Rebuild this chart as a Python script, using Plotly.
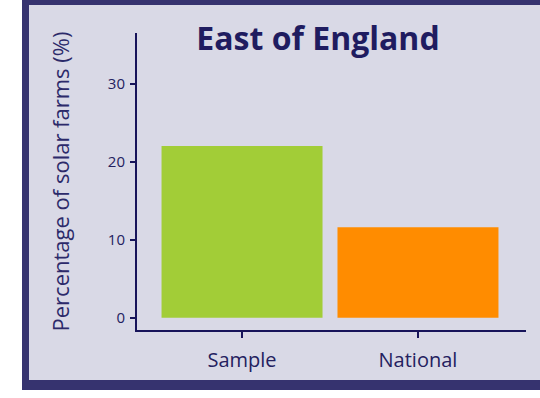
import plotly.graph_objects as go

categories = ["Sample", "National"]
percentages = [22.0, 11.6]
bar_colors = ["#a2cd37", "#ff8c00"]
y_ticks = [0, 10, 20, 30]

W, H = 540, 398
ML, MR, MT, MB = 137, 14, 33, 68
PW, PH = W - ML - MR, H - MT - MB


def px_x(p):
    return (p - ML) / PW


def px_y(p):
    return (H - MB - p) / PH


navy = "#17145a"
frame = "#36336f"
panel = "#d9d9e6"
FONT = "Open Sans, Noto Sans, sans-serif"

fig = go.Figure(
    go.Bar(
        x=categories,
        y=percentages,
        marker=dict(color=bar_colors, line=dict(width=0)),
        width=0.915,
        hoverinfo="x+y",
    )
)

fig.update_layout(
    width=W,
    height=H,
    margin=dict(l=ML, r=MR, t=MT, b=MB),
    paper_bgcolor="white",
    plot_bgcolor="rgba(0,0,0,0)",
    showlegend=False,
    font=dict(family=FONT, color=navy),
    title=dict(
        text="<b>East of England</b>",
        x=px_x(318),
        xref="paper",
        xanchor="center",
        y=1 - 39 / H,
        yanchor="middle",
        font=dict(size=32, color="#1f1c60", family=FONT),
    ),
    shapes=[
        dict(type="rect", xref="paper", yref="paper", layer="below",
             x0=px_x(22), x1=px_x(560), y0=px_y(390), y1=px_y(-10),
             fillcolor=frame, line=dict(width=0)),
        dict(type="rect", xref="paper", yref="paper", layer="below",
             x0=px_x(29), x1=px_x(560), y0=px_y(380), y1=px_y(5),
             fillcolor=panel, line=dict(width=0)),
    ],
)

fig.update_xaxes(
    range=[-0.597, 1.614],
    showgrid=False,
    zeroline=False,
    showline=True,
    linecolor=navy,
    linewidth=2,
    ticks="outside",
    ticklen=6,
    tickwidth=2,
    tickcolor=navy,
    ticklabelstandoff=5,
    tickfont=dict(size=20, color="#24215f"),
)

fig.update_yaxes(
    range=[-1.58, 36.5],
    tickvals=y_ticks,
    showgrid=False,
    zeroline=False,
    showline=True,
    linecolor=navy,
    linewidth=2,
    ticks="outside",
    ticklen=5,
    tickwidth=2,
    tickcolor=navy,
    ticklabelstandoff=2,
    tickfont=dict(size=15, color="#24215f"),
    title=dict(text="Percentage of solar farms (%)",
               font=dict(size=22, color="#2c2a6a"), standoff=32),
)

fig.write_html("out.html")
